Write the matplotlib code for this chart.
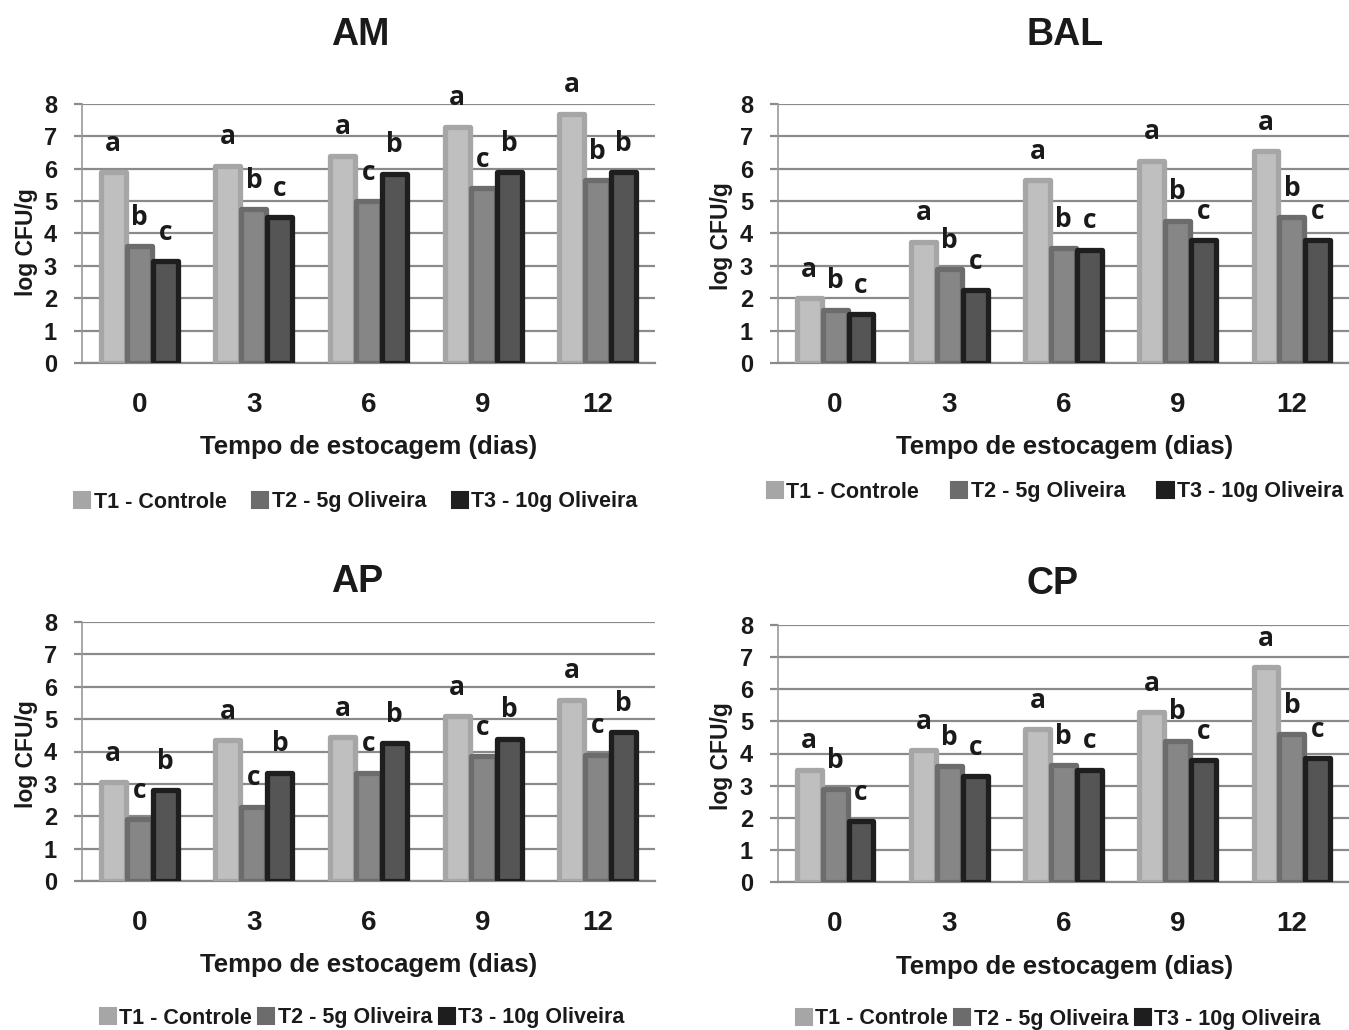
import matplotlib
matplotlib.use("Agg")
import matplotlib.pyplot as plt
from matplotlib.patches import Patch
import numpy as np

# ---------------------------------------------------------------------------
# Data
# ---------------------------------------------------------------------------
days = ["0", "3", "6", "9", "12"]
series_names = ["T1 - Controle", "T2 - 5g Oliveira", "T3 - 10g Oliveira"]

am_t1 = [5.9, 6.1, 6.4, 7.3, 7.7]
am_t2 = [3.6, 4.75, 5.0, 5.4, 5.65]
am_t3 = [3.15, 4.5, 5.85, 5.9, 5.9]
am_letters = [["a", "b", "c"], ["a", "b", "c"], ["a", "c", "b"], ["a", "c", "b"], ["a", "b", "b"]]

bal_t1 = [2.0, 3.75, 5.65, 6.25, 6.55]
bal_t2 = [1.65, 2.9, 3.55, 4.4, 4.5]
bal_t3 = [1.5, 2.25, 3.5, 3.8, 3.8]
bal_letters = [["a", "b", "c"]] * 5

ap_t1 = [3.05, 4.35, 4.45, 5.1, 5.6]
ap_t2 = [1.9, 2.3, 3.35, 3.85, 3.9]
ap_t3 = [2.8, 3.35, 4.25, 4.4, 4.6]
ap_letters = [["a", "c", "b"]] * 5

cp_t1 = [3.5, 4.1, 4.75, 5.3, 6.7]
cp_t2 = [2.9, 3.6, 3.65, 4.4, 4.6]
cp_t3 = [1.9, 3.3, 3.5, 3.8, 3.85]
cp_letters = [["a", "b", "c"]] * 5

# ---------------------------------------------------------------------------
# Style
# ---------------------------------------------------------------------------
W, H = 1349, 1030
FACE = ["#bfbfbf", "#868686", "#555555"]
EDGE = ["#a6a6a6", "#6c6c6c", "#1e1e1e"]
GRID = "#8a8a8a"
TXT = "#1a1a1a"
LAB_FONT = ["Liberation Sans", "DejaVu Sans"]
LET_FONT = ["Open Sans", "DejaVu Sans"]

fig = plt.figure(figsize=(W / 100, H / 100), dpi=100)


def fx(x):
    return x / W


def fy(y):
    return 1 - y / H


def panel(title, vals, letters, box, title_xy, xlabel_xy, ylabel_xy, leg_xy, colspace):
    left, top, right, bottom = box
    ax = fig.add_axes([fx(left), fy(bottom), fx(right - left), (bottom - top) / H])
    x = np.arange(len(days))
    off = 0.227
    for i, v in enumerate(vals):
        ax.bar(x + (i - 1) * off, v, width=0.218, color=FACE[i], edgecolor=EDGE[i],
               linewidth=3.8, joinstyle="round", zorder=3, label=series_names[i])
        for j in range(len(days)):
            ax.text(x[j] + (i - 1) * off, v[j] + 0.66, letters[j][i], ha="center",
                    va="baseline", fontsize=19, fontweight="bold", family=LET_FONT,
                    color=TXT, zorder=4)
    ax.set_xlim(-0.5, 4.5)
    ax.set_ylim(0, 8)
    ax.set_yticks(range(9))
    ax.yaxis.grid(True, color=GRID, linewidth=1.6, zorder=0)
    ax.set_axisbelow(True)
    for s in ["top", "right"]:
        ax.spines[s].set_visible(False)
    ax.spines["left"].set_color("#9a9a9a")
    ax.spines["left"].set_linewidth(1.2)
    ax.spines["bottom"].set_color(GRID)
    ax.spines["bottom"].set_linewidth(1.6)
    ax.tick_params(axis="y", length=6, width=1.6, color=GRID, pad=12)
    ax.tick_params(axis="x", length=0, pad=21)
    ax.set_xticks(x)
    ax.set_xticklabels(days)
    for t in ax.get_yticklabels():
        t.set_fontsize(17)
        t.set_fontweight("bold")
        t.set_family(LAB_FONT)
        t.set_color(TXT)
    for t in ax.get_xticklabels():
        t.set_fontsize(20)
        t.set_fontweight("bold")
        t.set_family(LAB_FONT)
        t.set_color(TXT)

    fig.text(fx(title_xy[0]), fy(title_xy[1]), title, ha="center", va="center",
             fontsize=27, fontweight="bold", family=LAB_FONT, color=TXT)
    fig.text(fx(xlabel_xy[0]), fy(xlabel_xy[1]), "Tempo de estocagem (dias)",
             ha="center", va="center", fontsize=18.5, fontweight="bold",
             family=LAB_FONT, color=TXT)
    fig.text(fx(ylabel_xy[0]), fy(ylabel_xy[1]), "log CFU/g", ha="center",
             va="center", rotation=90, fontsize=16.5, fontweight="bold",
             family=LAB_FONT, color=TXT)

    handles = [Patch(facecolor=EDGE[i], edgecolor=EDGE[i], linewidth=1.5)
               for i in range(3)]
    fig.legend(handles, series_names, loc="center", ncol=3, frameon=False,
               bbox_to_anchor=(fx(leg_xy[0]), fy(leg_xy[1])),
               prop={"family": LAB_FONT, "weight": "bold", "size": 15.5},
               labelcolor=TXT, handlelength=0.75, handleheight=0.75,
               handletextpad=0.15, columnspacing=colspace)
    return ax


panel("AM", [am_t1, am_t2, am_t3], am_letters, (82, 104, 655, 363),
      (360, 35), (369, 447), (26, 242), (356, 502), 1.2)
panel("BAL", [bal_t1, bal_t2, bal_t3], bal_letters, (778, 104, 1349, 363),
      (1065, 35), (1065, 447), (722, 236), (1055, 492), 1.5)
panel("AP", [ap_t1, ap_t2, ap_t3], ap_letters, (82, 622, 655, 881),
      (357, 582), (369, 965), (27, 754), (362, 1018), 0.3)
panel("CP", [cp_t1, cp_t2, cp_t3], cp_letters, (778, 625, 1349, 882),
      (1053, 584), (1065, 967), (722, 756), (1058, 1019), 0.3)

fig.savefig("out.png", dpi=100, facecolor="white")
